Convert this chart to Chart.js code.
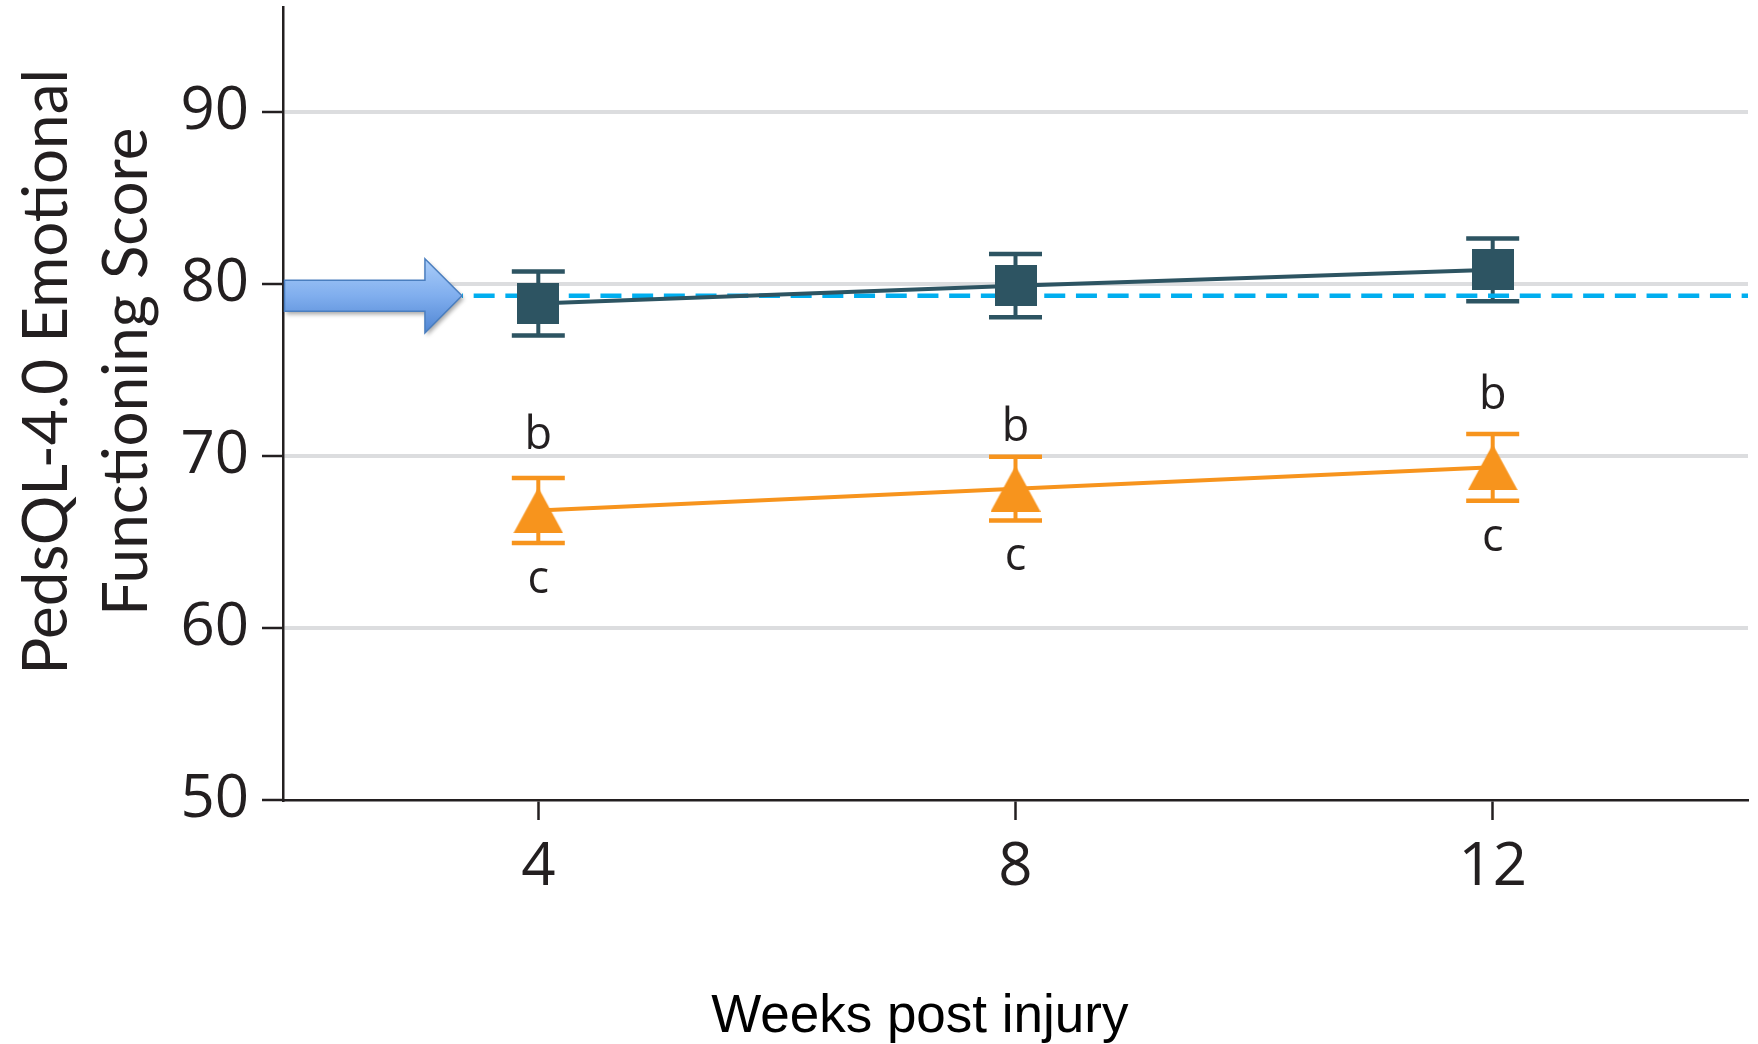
<!DOCTYPE html>
<html>
<head>
<meta charset="utf-8">
<script src="https://cdn.jsdelivr.net/npm/chart.js@4/dist/chart.umd.min.js"></script>
<style>
html, body { margin: 0; padding: 0; background: #ffffff; }
#wrap { width: 1758px; height: 1044px; }
</style>
</head>
<body>
<div id="wrap"><canvas id="c" width="1758" height="1044"></canvas></div>
<script>
// ---- data ----
const weeks = [4, 8, 12];
const xTicks = [4, 8, 12];
const yTicks = [50, 60, 70, 80, 90];
const controlMean = [78.87, 79.9, 80.82];
const controlErr = [1.86, 1.84, 1.82];
const injuryMean = [66.83, 68.1, 69.34];
const injuryErr = [1.89, 1.85, 1.94];
const normValue = 79.31;
const normStart = 3.36;
const xMin = 1.86, xMax = 14.14, yMin = 50, yMax = 96.1;
const upperLetters = ['b', 'b', 'b'];
const upperLetterY = [71.48, 71.9, 73.78];
const lowerLetters = ['c', 'c', 'c'];
const lowerLetterY = [62.75, 64.07, 65.22];
const yTitle = ['    PedsQL-4.0 Emotional', '    Functioning Score'];
const xTitle = 'Weeks post injury' + ' '.repeat(13);

// ---- styles ----
const DARK = '#2d5462';
const ORANGE = '#f7941d';
const INK = '#231f20';

function squareMarker() {
  const c = document.createElement('canvas');
  c.width = 42; c.height = 41;
  const g = c.getContext('2d');
  g.fillStyle = DARK; g.fillRect(0, 0, 42, 41);
  return c;
}
function triangleMarker() {
  const c = document.createElement('canvas');
  c.width = 50; c.height = 46;
  const g = c.getContext('2d');
  g.fillStyle = ORANGE;
  g.beginPath(); g.moveTo(25, 0); g.lineTo(50, 46); g.lineTo(0, 46); g.closePath(); g.fill();
  return c;
}

function noPad(s) { s.paddingTop = 0; s.paddingBottom = 0; s.paddingLeft = 0; s.paddingRight = 0; }

const errorBarPlugin = {
  id: 'errorBars',
  beforeDatasetsDraw(chart) {
    const { ctx, scales: { x, y } } = chart;
    const sets = [[controlMean, controlErr, DARK], [injuryMean, injuryErr, ORANGE]];
    ctx.save();
    for (const [m, e, col] of sets) {
      ctx.strokeStyle = col;
      for (let i = 0; i < weeks.length; i++) {
        const px = x.getPixelForValue(weeks[i]);
        const top = y.getPixelForValue(m[i] + e[i]);
        const bot = y.getPixelForValue(m[i] - e[i]);
        ctx.lineWidth = 4;
        ctx.beginPath(); ctx.moveTo(px, top); ctx.lineTo(px, bot); ctx.stroke();
        ctx.lineWidth = 4.5;
        ctx.beginPath();
        ctx.moveTo(px - 26.5, top); ctx.lineTo(px + 26.5, top);
        ctx.moveTo(px - 26.5, bot); ctx.lineTo(px + 26.5, bot);
        ctx.stroke();
      }
    }
    ctx.restore();
  }
};

const arrowPlugin = {
  id: 'normArrow',
  afterDatasetsDraw(chart) {
    const { ctx, chartArea, scales: { x, y } } = chart;
    const tipX = x.getPixelForValue(normStart);
    const cy = y.getPixelForValue(normValue);
    const tailX = chartArea.left + 1.5;
    const bodyH = 15.5, headH = 37, headLen = 37;
    ctx.save();
    ctx.beginPath();
    ctx.moveTo(tailX, cy - bodyH);
    ctx.lineTo(tipX - headLen, cy - bodyH);
    ctx.lineTo(tipX - headLen, cy - headH);
    ctx.lineTo(tipX, cy);
    ctx.lineTo(tipX - headLen, cy + headH);
    ctx.lineTo(tipX - headLen, cy + bodyH);
    ctx.lineTo(tailX, cy + bodyH);
    ctx.closePath();
    const g = ctx.createLinearGradient(0, cy - headH, 0, cy + headH);
    g.addColorStop(0, '#aacdf9');
    g.addColorStop(0.5, '#80aeee');
    g.addColorStop(1, '#4f85d3');
    ctx.shadowColor = 'rgba(0,0,0,0.35)';
    ctx.shadowBlur = 4;
    ctx.shadowOffsetX = 2;
    ctx.shadowOffsetY = 3;
    ctx.fillStyle = g;
    ctx.fill();
    ctx.shadowColor = 'rgba(0,0,0,0)';
    ctx.lineWidth = 1.5;
    ctx.strokeStyle = '#4a7ebf';
    ctx.stroke();
    ctx.restore();
  }
};

const letterPlugin = {
  id: 'sigLetters',
  afterDatasetsDraw(chart) {
    const { ctx, scales: { x, y } } = chart;
    ctx.save();
    ctx.font = '45px "Open Sans"';
    ctx.fillStyle = INK;
    ctx.textAlign = 'center';
    ctx.textBaseline = 'alphabetic';
    const draw = (txt, wx, wy) => {
      const m = ctx.measureText(txt);
      const px = x.getPixelForValue(wx);
      const py = y.getPixelForValue(wy);
      ctx.fillText(txt, px, py + (m.actualBoundingBoxAscent - m.actualBoundingBoxDescent) / 2);
    };
    for (let i = 0; i < weeks.length; i++) {
      draw(upperLetters[i], weeks[i], upperLetterY[i]);
      draw(lowerLetters[i], weeks[i], lowerLetterY[i]);
    }
    ctx.restore();
  }
};

function build() {
  const toPts = (vals) => weeks.map((w, i) => ({ x: w, y: vals[i] }));
  new Chart(document.getElementById('c'), {
    type: 'line',
    data: {
      datasets: [
        {
          label: 'Normative',
          data: [{ x: normStart, y: normValue }, { x: xMax, y: normValue }],
          borderColor: '#00aeef',
          borderWidth: 4.5,
          borderDash: [21, 10.7],
          borderDashOffset: 20,
          pointRadius: 0,
          order: 3
        },
        {
          label: 'Control',
          data: toPts(controlMean),
          borderColor: DARK,
          borderWidth: 4,
          pointStyle: squareMarker(),
          pointRadius: 21,
          order: 1
        },
        {
          label: 'Injury',
          data: toPts(injuryMean),
          borderColor: ORANGE,
          borderWidth: 4,
          pointStyle: triangleMarker(),
          pointRadius: 24,
          order: 2
        }
      ]
    },
    options: {
      responsive: false,
      animation: false,
      devicePixelRatio: 1,
      layout: { autoPadding: false, padding: { left: 0, right: 10, top: 7, bottom: 0 } },
      plugins: { legend: { display: false }, tooltip: { enabled: false } },
      scales: {
        x: {
          type: 'linear',
          min: xMin, max: xMax,
          afterBuildTicks: (s) => { s.ticks = xTicks.map(v => ({ value: v })); },
          afterFit: (s) => { s.height = 244; noPad(s); },
          grid: { drawOnChartArea: false, drawTicks: true, tickLength: 20, tickColor: INK, tickWidth: 2.5 },
          border: { color: INK, width: 2.5 },
          ticks: { font: { family: 'Open Sans', size: 60 }, color: INK, padding: 12, maxRotation: 0, autoSkip: false },
          title: { display: true, text: xTitle, font: { family: 'Liberation Sans', size: 53, lineHeight: 1 }, color: '#000000', padding: { top: 0, bottom: 0 } }
        },
        y: {
          type: 'linear',
          min: yMin, max: yMax,
          afterBuildTicks: (s) => { s.ticks = yTicks.map(v => ({ value: v })); },
          afterFit: (s) => { s.width = 283; noPad(s); },
          grid: {
            color: (c) => (c.tick && c.tick.value === yMin) ? 'rgba(0,0,0,0)' : '#dcdddf',
            lineWidth: 4,
            drawTicks: true,
            tickLength: 21,
            tickColor: INK,
            tickWidth: 2.5
          },
          border: { color: INK, width: 2.5 },
          ticks: { font: { family: 'Open Sans', size: 60 }, color: INK, padding: 13 },
          title: { display: true, text: yTitle, font: { family: 'Lato', size: 62, lineHeight: 1.29 }, color: INK, padding: { top: 7, bottom: 0 } }
        }
      }
    },
    plugins: [errorBarPlugin, arrowPlugin, letterPlugin]
  });
}

Promise.all([
  document.fonts.load('60px "Open Sans"'),
  document.fonts.load('62px Lato'),
  document.fonts.load('53px "Liberation Sans"')
]).then(build, build);
</script>
</body>
</html>
